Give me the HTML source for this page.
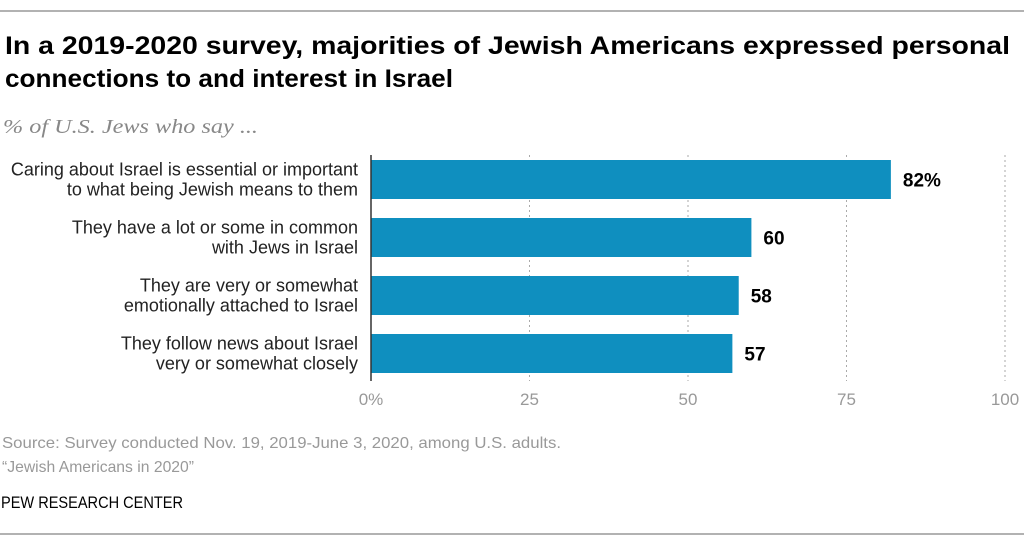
<!DOCTYPE html>
<html><head><meta charset="utf-8"><style>
html,body{margin:0;padding:0;background:#fff;}
svg{display:block;font-family:"Liberation Sans",sans-serif;}
</style></head><body>
<svg id="c" width="1024" height="547" viewBox="0 0 1024 547">
<line x1="0" y1="11" x2="1024" y2="11" stroke="#999" stroke-width="1.5"/>
<text x="5" y="54" font-size="25" font-weight="bold" fill="#000" textLength="1005" lengthAdjust="spacingAndGlyphs">In a 2019-2020 survey, majorities of Jewish Americans expressed personal</text>
<text x="5" y="87" font-size="25" font-weight="bold" fill="#000" textLength="448" lengthAdjust="spacingAndGlyphs">connections to and interest in Israel</text>
<text x="3" y="133" font-size="20" font-style="italic" fill="#888" font-family="Liberation Serif, serif" textLength="255" lengthAdjust="spacingAndGlyphs">% of U.S. Jews who say ...</text>
<g id="plot"></g>
<text x="2" y="448" font-size="16" fill="#999" textLength="559" lengthAdjust="spacingAndGlyphs">Source: Survey conducted Nov. 19, 2019-June 3, 2020, among U.S. adults.</text>
<text x="2" y="472" font-size="16" fill="#999" textLength="192" lengthAdjust="spacingAndGlyphs">“Jewish Americans in 2020”</text>
<text x="1" y="508" font-size="17" fill="#000" textLength="182" lengthAdjust="spacingAndGlyphs">PEW RESEARCH CENTER</text>
<line x1="0" y1="534" x2="1024" y2="534" stroke="#999" stroke-width="1.5"/>
</svg>
<script>
const categories1 = ["Caring about Israel is essential or important","They have a lot or some in common","They are very or somewhat","They follow news about Israel"];
const categories2 = ["to what being Jewish means to them","with Jews in Israel","emotionally attached to Israel","very or somewhat closely"];
const values = [82, 60, 58, 57];
const valueLabels = ["82%", "60", "58", "57"];
const ticks = [0, 25, 50, 75, 100];
const tickLabels = ["0%", "25", "50", "75", "100"];

const NS = "http://www.w3.org/2000/svg";
const g = document.getElementById("plot");
const x0 = 371, x1 = 1005;
const xs = v => x0 + (x1 - x0) * v / 100;
const barTop = i => 160 + i * 58;
const barH = 39;
function mk(tag, attrs, txt){
  const e = document.createElementNS(NS, tag);
  for (const k in attrs) e.setAttribute(k, attrs[k]);
  if (txt !== undefined) e.textContent = txt;
  g.appendChild(e);
  return e;
}
ticks.forEach((t, i) => {
  if (t > 0) {
    const gl = mk("line", {x1: xs(t), x2: xs(t), y1: 155, y2: 381, stroke: "#aaa", "stroke-width": 1, "stroke-dasharray": "2,3"});
    
    
  }
  const tl = mk("text", {x: xs(t), y: 405, "font-size": 17, fill: "#999", "text-anchor": "middle"}, tickLabels[i]);
  
  
});
values.forEach((v, i) => {
  const y = barTop(i);
  const r = mk("rect", {x: x0, y: y, width: xs(v) - x0, height: barH, fill: "#0f8fbf"});
  
  
  const vl = mk("text", {x: xs(v) + 12, y: y + barH / 2 + 7, "font-size": 19, "font-weight": "bold", fill: "#000"}, valueLabels[i]);
  
  
  const c1 = mk("text", {x: 358, y: y + barH / 2 - 4, "font-size": 18, fill: "#222", "text-anchor": "end"}, categories1[i]);
  
  
  const c2 = mk("text", {x: 358, y: y + barH / 2 + 16, "font-size": 18, fill: "#222", "text-anchor": "end"}, categories2[i]);
  
  
});
const ax = mk("line", {x1: x0, x2: x0, y1: 155, y2: 381, stroke: "#333", "stroke-width": 1.5});


</script>
</body></html>
